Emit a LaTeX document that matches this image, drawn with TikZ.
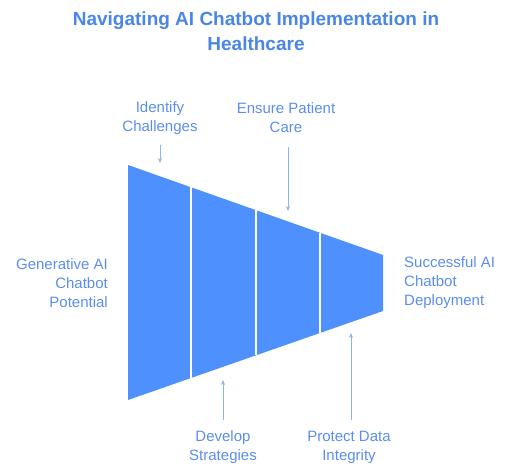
\documentclass[tikz,border=0pt]{standalone}
\usepackage{fontspec}
\setmainfont{Liberation Sans}
\usepackage{tikz}
\usetikzlibrary{arrows.meta}
\definecolor{funnelblue}{HTML}{4D90FE}
\definecolor{titleblue}{HTML}{4A86E8}
\definecolor{labelblue}{HTML}{5B8DEF}
\definecolor{arrowblue}{HTML}{8AB4F8}

\begin{document}
\begin{tikzpicture}[x=1pt,y=-1pt,
    title_node/.style={text=titleblue,font=\bfseries\fontsize{19}{25}\selectfont,align=center},
    label_node/.style={text=labelblue,font=\fontsize{15}{19}\selectfont,inner sep=0pt},
    pointer/.style={arrowblue,line width=1pt,-{Stealth[length=5pt,width=4pt]}}]

    \useasboundingbox (0,0) rectangle (512,476);

    \node[title_node] (title) at (256,31) {Navigating AI Chatbot Implementation in\\Healthcare};

    % funnel
    \fill[funnelblue] (128,165) -- (383,255) -- (383,311) -- (128,400) -- cycle;
    \begin{scope}[every path/.style={draw=white,line width=1.2pt}]
    \draw (191,187.2) -- (191,378);
    \draw (256,210.2) -- (256,355.3);
    \draw (320,232.8) -- (320,333);
    \end{scope}

    \node[label_node,align=center] (1) at (160,118) {Identify\\Challenges};
    \node[label_node,align=center] (2) at (286,118) {Ensure Patient\\Care};
    \node[label_node,align=center] (3) at (223,447) {Develop\\Strategies};
    \node[label_node,align=center] (4) at (349,447) {Protect Data\\Integrity};
    \node[label_node,align=right,anchor=east] (5) at (108,283) {Generative AI\\Chatbot\\Potential};
    \node[label_node,align=left,anchor=west] (6) at (404,283) {Successful AI\\Chatbot\\Deployment};

    \coordinate (1a) at (160,145);
    \coordinate (1b) at (160,163);
    \coordinate (2a) at (288,147);
    \coordinate (2b) at (288,211);
    \coordinate (3a) at (223,420);
    \coordinate (3b) at (223,380);
    \coordinate (4a) at (351,420);
    \coordinate (4b) at (351,333);

    \begin{scope}[every path/.style={pointer}]
    \draw (1a) -- (1b);
    \draw (2a) -- (2b);
    \draw (3a) -- (3b);
    \draw (4a) -- (4b);
    \end{scope}
\end{tikzpicture}
\end{document}
